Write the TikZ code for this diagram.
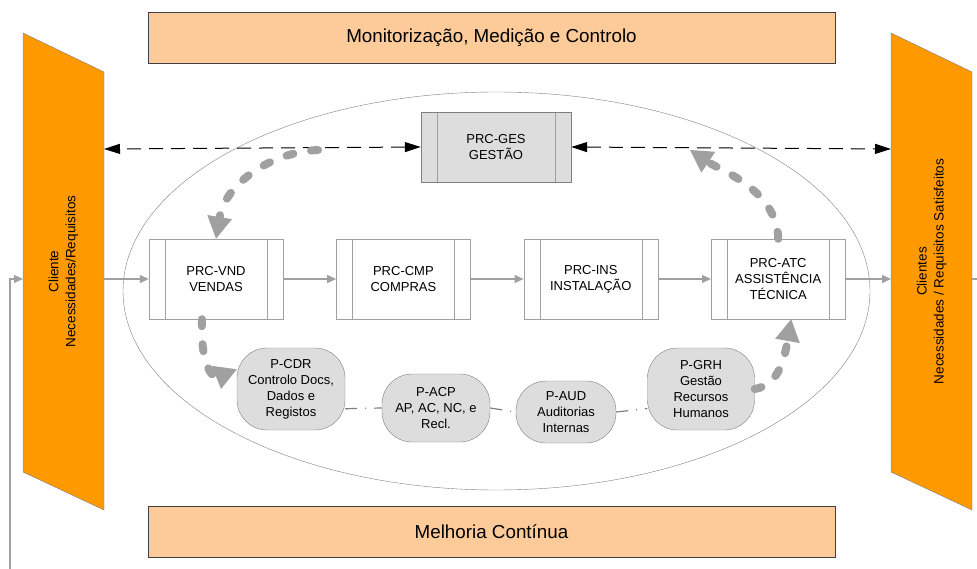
\documentclass[tikz,border=0pt]{standalone}
\usepackage{fontspec}
\setmainfont{Liberation Sans}
\usetikzlibrary{positioning}
\usetikzlibrary{arrows.meta}

\definecolor{laranja}{HTML}{FF9900}
\definecolor{pessego}{HTML}{FDCB9A}
\definecolor{cinza}{HTML}{A0A0A0}
\definecolor{cinzaesc}{HTML}{7F7F7F}
\definecolor{cinzaclaro}{HTML}{DDDDDD}

\begin{document}
\begin{tikzpicture}[x=1pt,y=-1pt,node distance=53pt,
  txt/.style={font=\fontsize{13}{16}\selectfont,align=center},
  prc/.style={txt,draw=cinza,fill=white,minimum width=134pt,minimum height=80pt,
    path picture={
      \draw[cinza] ([xshift=16pt]path picture bounding box.north west) -- ([xshift=16pt]path picture bounding box.south west);
      \draw[cinza] ([xshift=-16pt]path picture bounding box.north east) -- ([xshift=-16pt]path picture bounding box.south east);}},
  ges/.style={prc,draw=cinzaesc,fill=cinzaclaro,minimum width=150pt,minimum height=70pt},
  pnode/.style={txt,draw=cinzaesc,fill=cinzaclaro,rounded corners=30pt,inner sep=0pt},
  faixa/.style={draw=black!75,fill=pessego,minimum width=687pt,minimum height=51pt,font=\fontsize{18.8}{22}\selectfont},
  cliente/.style={draw=cinzaesc,fill=laranja},
  fluxo/.style={cinza,line width=1.2pt,-{Triangle[length=9pt,width=8pt]}},
  ciclo/.style={cinza,line width=8pt,line cap=round,dash pattern=on 7pt off 18pt,-{Triangle[length=22pt,width=25pt,line width=0pt]}},
  info/.style={black,line width=1pt,dash pattern=on 14pt off 8pt,{Triangle[length=16pt,width=10pt]}-{Triangle[length=16pt,width=10pt]}},
  apoio/.style={cinzaesc,line width=1.2pt,dash pattern=on 12pt off 8pt on 1pt off 8pt}]
\useasboundingbox (0,0) rectangle (977,569);

\draw[cinzaesc] (496.5,291) ellipse [x radius=373.5pt, y radius=199pt];

\node[faixa] (mon) at (491.5,37.5) {Monitorização, Medição e Controlo};
\node[faixa] (mel) at (491.5,532) {Melhoria Contínua};

\draw[cliente] (23,33) -- (104,72) -- (104,510) -- (23,472) -- cycle;
\node[txt,font=\fontsize{13.5}{17}\selectfont,rotate=90] (cli) at (63.5,271.5) {Cliente\\Necessidades/Requisitos};
\draw[cliente] (891,33) -- (972,72) -- (972,510) -- (891,472) -- cycle;
\node[txt,font=\fontsize{13.5}{17}\selectfont,rotate=90] (cls) at (931.5,271.5) {Clientes\\Necessidades / Requisitos Satisfeitos};

\coordinate (cliE) at (104,279);
\coordinate (cliW) at (23,279);
\coordinate (cliI) at (104,149);
\coordinate (clsW) at (891,279);
\coordinate (clsE) at (972,279);
\coordinate (clsI) at (891,149);
\coordinate (saida) at (977,279);
\coordinate (retorno) at (10,569);
\coordinate (gesA) at (318,150);
\coordinate (gesB) at (690,150);

\node[ges] (ges) at (496,147) {PRC-GES\\GESTÃO};

\node[prc] (vnd) at (216,279) {PRC-VND\\VENDAS};
\node[prc,right=of vnd] (cmp) {PRC-CMP\\COMPRAS};
\node[prc,right=of cmp] (ins) {PRC-INS\\INSTALAÇÃO};
\node[prc,right=of ins] (atc) {PRC-ATC\\ASSISTÊNCIA\\TÉCNICA};

\node[pnode,minimum width=108pt,minimum height=82pt] (cdr) at (291,389) {P-CDR\\Controlo Docs,\\Dados e\\Registos};
\node[pnode,minimum width=108pt,minimum height=68pt] (acp) at (436,408) {P-ACP\\AP, AC, NC, e\\Recl.};
\node[pnode,minimum width=100pt,minimum height=62pt] (aud) at (566,412) {P-AUD\\Auditorias\\Internas};
\node[pnode,minimum width=107pt,minimum height=82pt] (grh) at (701,389) {P-GRH\\Gestão\\Recursos\\Humanos};

\draw[fluxo] (cliE) -- (vnd);
\draw[fluxo] (vnd) -- (cmp);
\draw[fluxo] (cmp) -- (ins);
\draw[fluxo] (ins) -- (atc);
\draw[fluxo] (atc) -- (clsW);
\draw[cinza,line width=1.2pt] (clsE) -- (saida);
\draw[fluxo] (retorno) |- (cliW);

\draw[info] (ges.west) -- (cliI);
\draw[info] (ges.east) -- (clsI);

\draw[apoio] (cdr.-20) -- (acp.west);
\draw[apoio] (acp.east) -- (aud.west);
\draw[apoio] (aud.east) -- (grh.200);

\draw[ciclo] (gesA) .. controls (270,152) and (225,185) .. (vnd.north);
\draw[ciclo] ([xshift=-14pt]vnd.south) .. controls (200,370) and (215,378) .. (cdr.160);
\draw[ciclo] (grh.east) .. controls (780,385) and (785,355) .. ([xshift=13pt]atc.south);
\draw[ciclo] (atc.north) .. controls (777,190) and (720,170) .. (gesB);
\end{tikzpicture}
\end{document}
